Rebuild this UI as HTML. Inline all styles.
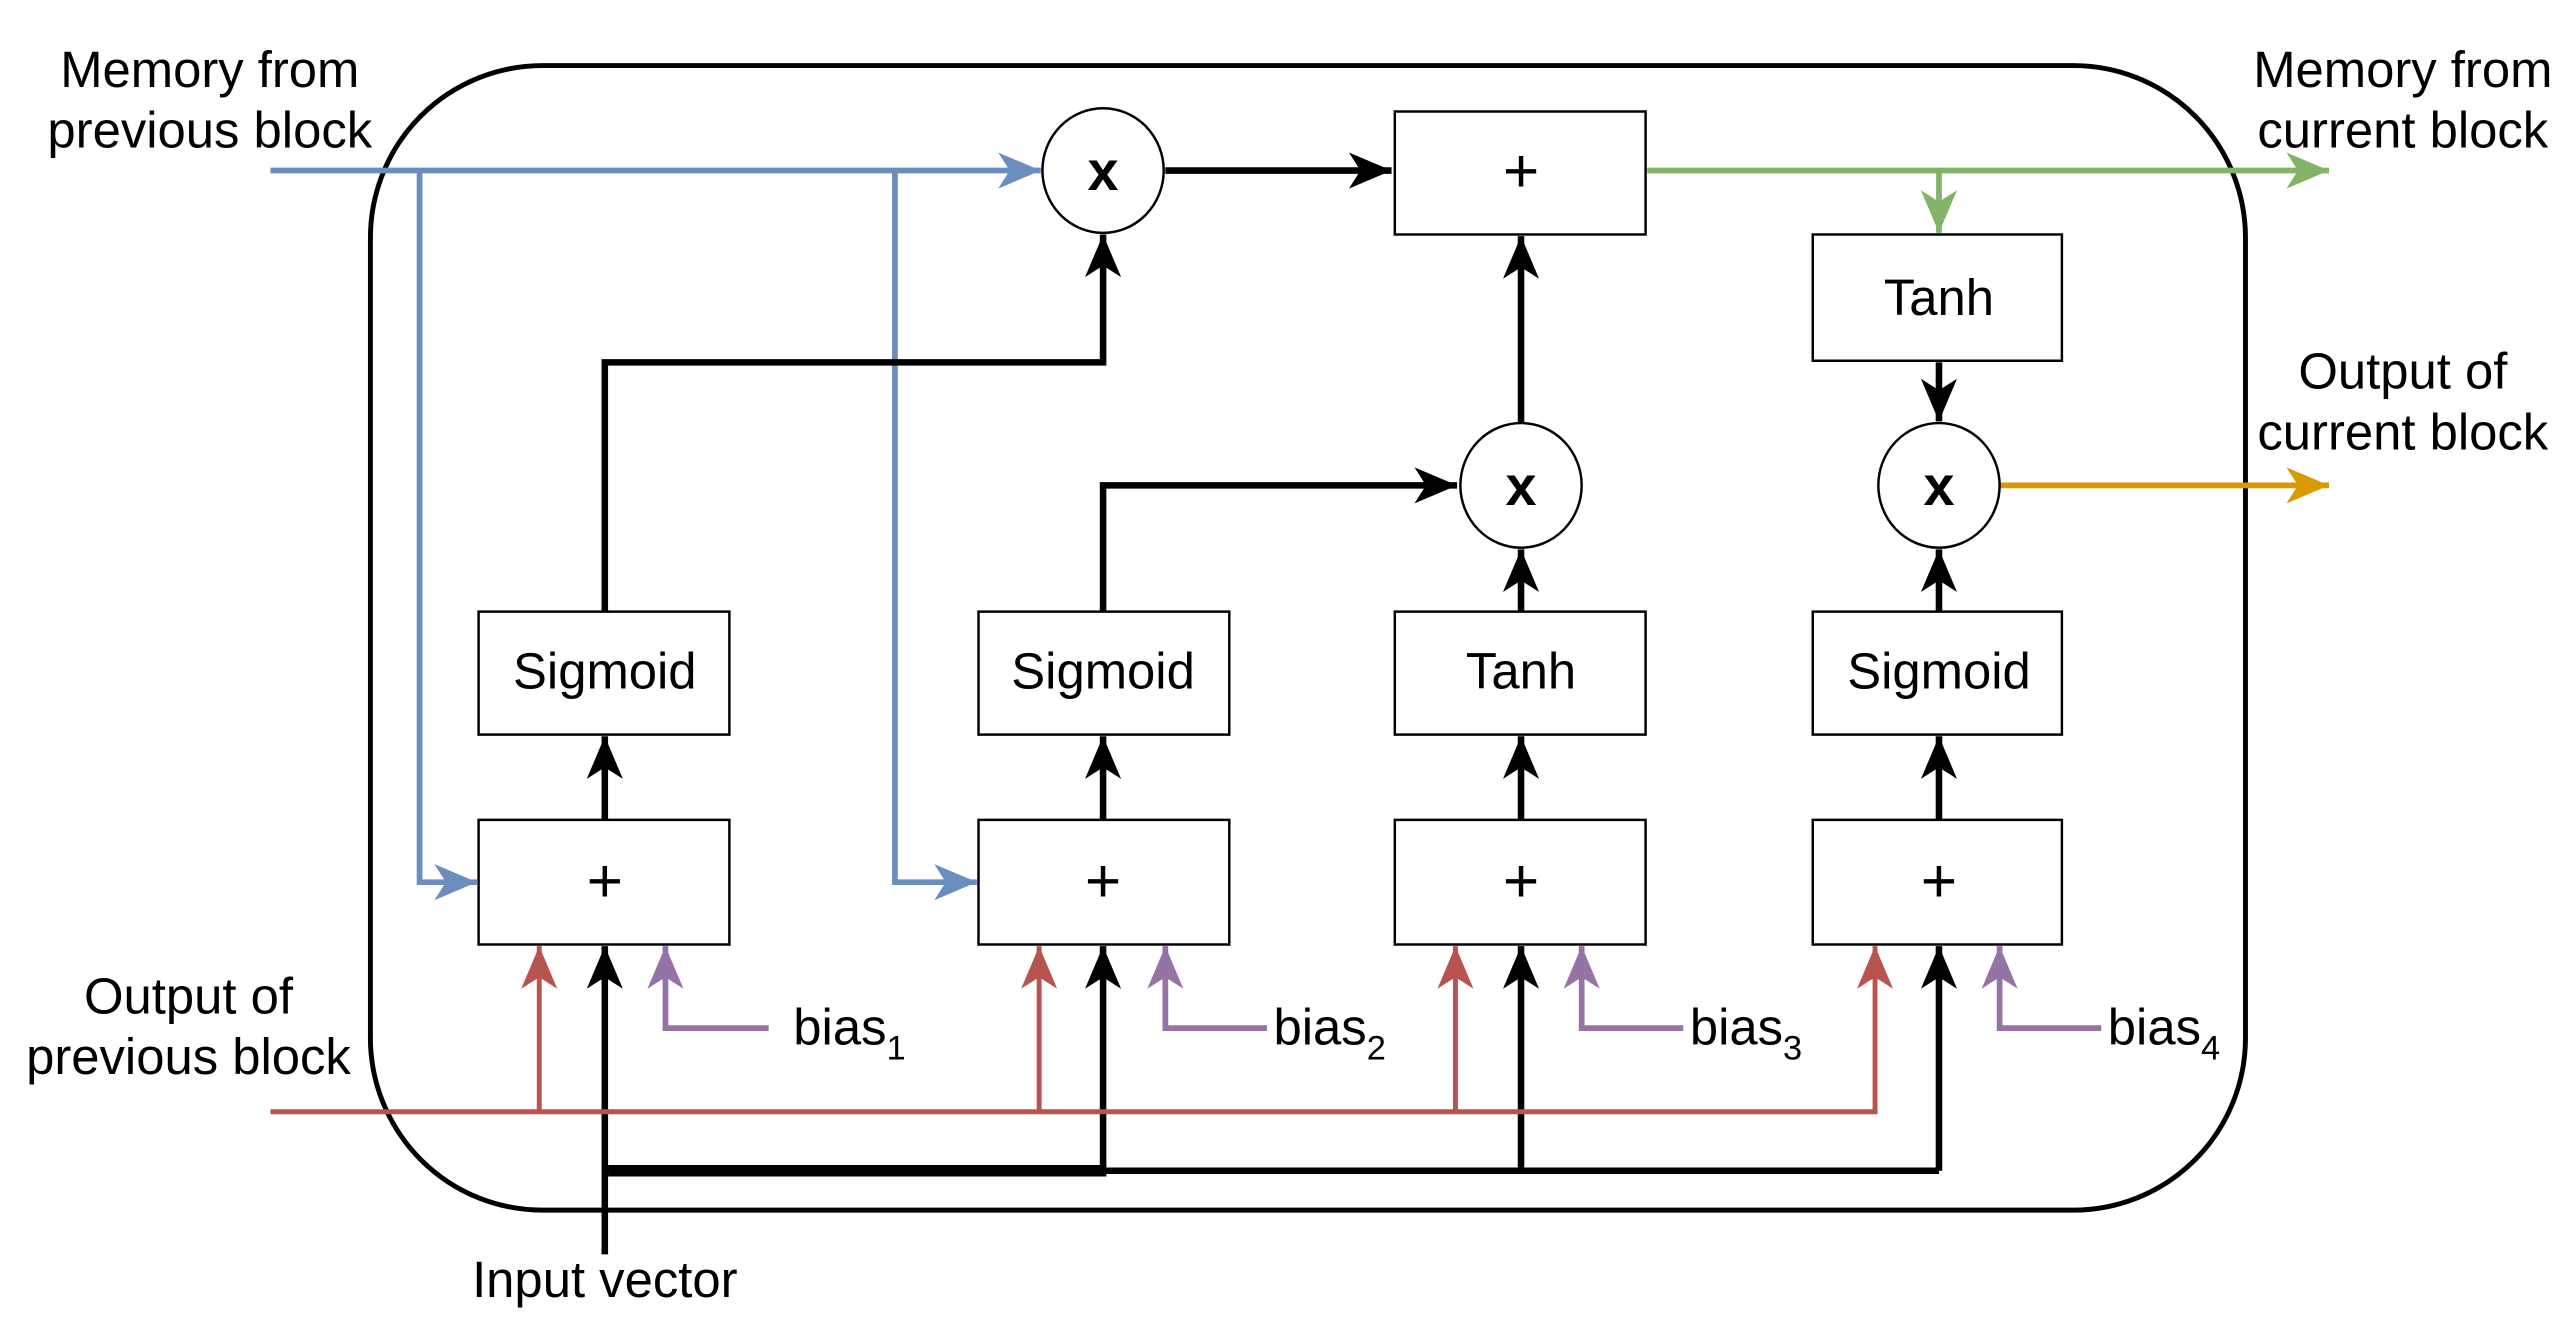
<!DOCTYPE html>
<html><head><meta charset="utf-8">
<style>
html,body{margin:0;padding:0;background:#fff;}
svg{display:block;}
text{font-family:"Liberation Sans",Arial,sans-serif;fill:#000;}
</style></head>
<body>
<svg width="2570" height="1320" viewBox="0 0 1568 805" preserveAspectRatio="none" xmlns="http://www.w3.org/2000/svg">
<defs>
<marker id="ak" markerUnits="userSpaceOnUse" markerWidth="30" markerHeight="26" viewBox="0 0 30 26" refX="28" refY="13" orient="auto"><path d="M2,2 L28,13 L2,24 L9,13 z" fill="#000"/></marker>
<marker id="ab" markerUnits="userSpaceOnUse" markerWidth="30" markerHeight="26" viewBox="0 0 30 26" refX="28" refY="13" orient="auto"><path d="M2,2 L28,13 L2,24 L9,13 z" fill="#6c8ebf"/></marker>
<marker id="ag" markerUnits="userSpaceOnUse" markerWidth="30" markerHeight="26" viewBox="0 0 30 26" refX="28" refY="13" orient="auto"><path d="M2,2 L28,13 L2,24 L9,13 z" fill="#82b366"/></marker>
<marker id="ao" markerUnits="userSpaceOnUse" markerWidth="30" markerHeight="26" viewBox="0 0 30 26" refX="28" refY="13" orient="auto"><path d="M2,2 L28,13 L2,24 L9,13 z" fill="#d79b00"/></marker>
<marker id="ar" markerUnits="userSpaceOnUse" markerWidth="30" markerHeight="26" viewBox="0 0 30 26" refX="28" refY="13" orient="auto"><path d="M2,2 L28,13 L2,24 L9,13 z" fill="#b85450"/></marker>
<marker id="ap" markerUnits="userSpaceOnUse" markerWidth="30" markerHeight="26" viewBox="0 0 30 26" refX="28" refY="13" orient="auto"><path d="M2,2 L28,13 L2,24 L9,13 z" fill="#9673a6"/></marker>
</defs>

<rect x="226" y="40" width="1144" height="698" rx="105" ry="105" fill="none" stroke="#000" stroke-width="3"/>

<g fill="none" stroke="#6c8ebf" stroke-width="3.5">
<path d="M165,104 L635,104" marker-end="url(#ab)"/>
<path d="M256,104 L256,538 L291,538" marker-end="url(#ab)"/>
<path d="M546,104 L546,538 L596,538" marker-end="url(#ab)"/>
</g>

<g fill="none" stroke="#000" stroke-width="4">
<path d="M711,104 L849,104" marker-end="url(#ak)"/>
<path d="M369,373 L369,221 L673,221 L673,143" marker-end="url(#ak)"/>
<path d="M673,373 L673,296 L889,296" marker-end="url(#ak)"/>
<path d="M928,258 L928,144" marker-end="url(#ak)"/>
<path d="M1183,221 L1183,257" marker-end="url(#ak)"/>
<path d="M928,373 L928,335" marker-end="url(#ak)"/>
<path d="M1183,373 L1183,335" marker-end="url(#ak)"/>
<path d="M369,500 L369,449" marker-end="url(#ak)"/>
<path d="M673,500 L673,449" marker-end="url(#ak)"/>
<path d="M928,500 L928,449" marker-end="url(#ak)"/>
<path d="M1183,500 L1183,449" marker-end="url(#ak)"/>
<path d="M369,765 L369,577" marker-end="url(#ak)"/>
<path d="M673,714 L673,577" marker-end="url(#ak)"/>
<path d="M928,714 L928,577" marker-end="url(#ak)"/>
<path d="M1183,714 L1183,577" marker-end="url(#ak)"/>
<path d="M369,714 L1183,714"/>
</g>
<path d="M371,714 L675,714" stroke="#000" stroke-width="7"/>

<g fill="none" stroke="#82b366" stroke-width="3.5">
<path d="M1005,104 L1421,104" marker-end="url(#ag)"/>
<path d="M1183,104 L1183,142" marker-end="url(#ag)"/>
</g>
<path d="M1220,296 L1421,296" fill="none" stroke="#d79b00" stroke-width="3.5" marker-end="url(#ao)"/>

<g fill="none" stroke="#b85450" stroke-width="3">
<path d="M165,678 L1144,678 L1144,577" marker-end="url(#ar)"/>
<path d="M329,678 L329,577" marker-end="url(#ar)"/>
<path d="M634,678 L634,577" marker-end="url(#ar)"/>
<path d="M888,678 L888,577" marker-end="url(#ar)"/>
</g>
<g fill="none" stroke="#9673a6" stroke-width="3.5">
<path d="M469,627 L406,627 L406,577" marker-end="url(#ap)"/>
<path d="M773,627 L711,627 L711,577" marker-end="url(#ap)"/>
<path d="M1027,627 L965,627 L965,577" marker-end="url(#ap)"/>
<path d="M1282,627 L1220,627 L1220,577" marker-end="url(#ap)"/>
</g>

<g fill="#fff" stroke="#000" stroke-width="1.5">
<rect x="851" y="68" width="153" height="75"/>
<rect x="1106" y="143" width="152" height="77"/>
<rect x="292" y="373" width="153" height="75"/>
<rect x="597" y="373" width="153" height="75"/>
<rect x="851" y="373" width="153" height="75"/>
<rect x="1106" y="373" width="152" height="75"/>
<rect x="292" y="500" width="153" height="76"/>
<rect x="597" y="500" width="153" height="76"/>
<rect x="851" y="500" width="153" height="76"/>
<rect x="1106" y="500" width="152" height="76"/>
<ellipse cx="673" cy="104" rx="37" ry="38"/>
<ellipse cx="928" cy="296" rx="37" ry="38"/>
<ellipse cx="1183" cy="296" rx="37" ry="38"/>
</g>

<g font-size="31" text-anchor="middle">
<text x="928" y="117" font-size="38">+</text>
<text x="369" y="550" font-size="38">+</text>
<text x="673" y="550" font-size="38">+</text>
<text x="928" y="550" font-size="38">+</text>
<text x="1183" y="550" font-size="38">+</text>
<text x="1183" y="192">Tanh</text>
<text x="369" y="420">Sigmoid</text>
<text x="673" y="420">Sigmoid</text>
<text x="928" y="420">Tanh</text>
<text x="1183" y="420">Sigmoid</text>
<text x="673" y="116" font-weight="bold" font-size="34">x</text>
<text x="928" y="308" font-weight="bold" font-size="34">x</text>
<text x="1183" y="308" font-weight="bold" font-size="34">x</text>
<text x="128" y="53">Memory from</text>
<text x="128" y="90">previous block</text>
<text x="1466" y="53">Memory from</text>
<text x="1466" y="90">current block</text>
<text x="1466" y="237">Output of</text>
<text x="1466" y="274">current block</text>
<text x="115" y="618">Output of</text>
<text x="115" y="655">previous block</text>
<text x="369" y="791">Input vector</text>
</g>
<g font-size="31">
<text x="484" y="637">bias<tspan font-size="21" dy="9">1</tspan></text>
<text x="777" y="637">bias<tspan font-size="21" dy="9">2</tspan></text>
<text x="1031" y="637">bias<tspan font-size="21" dy="9">3</tspan></text>
<text x="1286" y="637">bias<tspan font-size="21" dy="9">4</tspan></text>
</g>
</svg>
</body></html>
